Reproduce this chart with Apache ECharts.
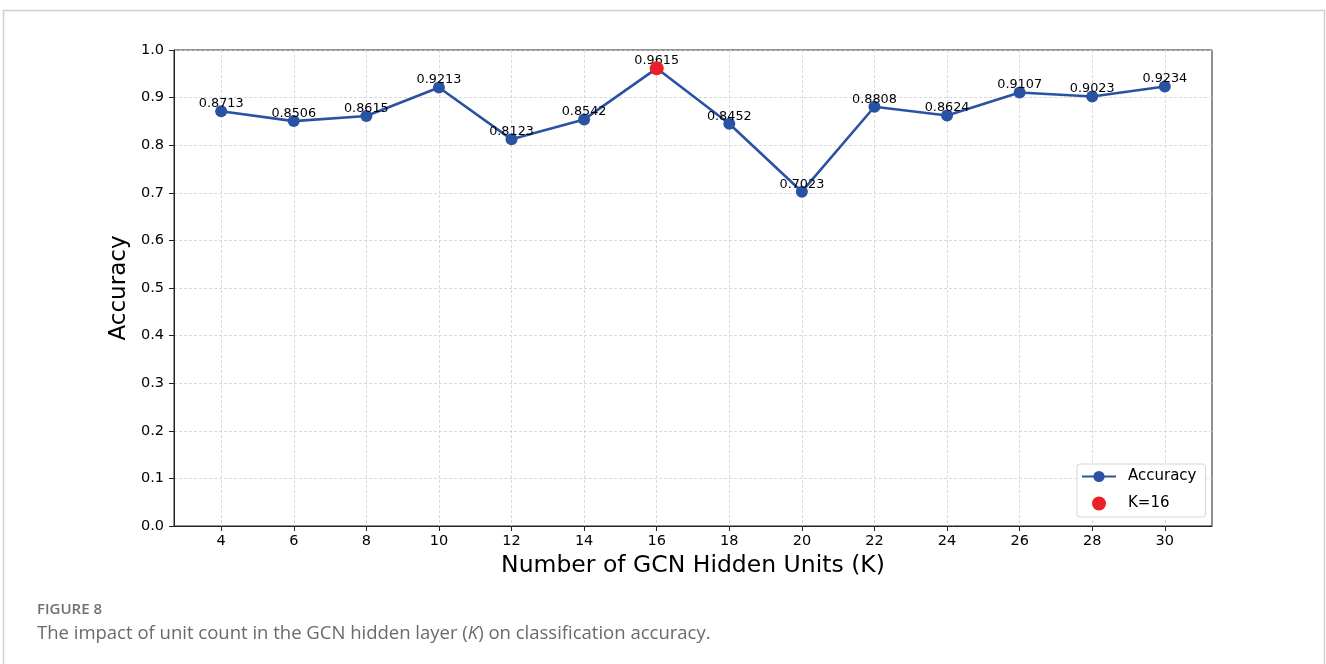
<!DOCTYPE html>
<html>
<head>
<meta charset="utf-8">
<script src="https://cdn.jsdelivr.net/npm/echarts@6/dist/echarts.min.js"></script>
<style>
  html, body { margin: 0; padding: 0; background: #fff; }
  #chart { width: 1326px; height: 664px; }
</style>
</head>
<body>
<div id="chart"></div>
<script>
// Hidden-unit counts K and the classification accuracy reached at each
const hiddenUnits = [4, 6, 8, 10, 12, 14, 16, 18, 20, 22, 24, 26, 28, 30];
const accuracy = [0.8713, 0.8506, 0.8615, 0.9213, 0.8123, 0.8542, 0.9615,
                  0.8452, 0.7023, 0.8808, 0.8624, 0.9107, 0.9023, 0.9234];
const bestK = 16;

const lineData = hiddenUnits.map((k, i) => [k, accuracy[i]]);
const bestData = [[bestK, accuracy[hiddenUnits.indexOf(bestK)]]];

const FONT = 'DejaVu Sans';
const BLUE = '#2a52a3';
const RED = '#ea1f28';

const chart = echarts.init(document.getElementById('chart'), null, { renderer: 'canvas' });

chart.setOption({
  animation: false,
  backgroundColor: '#fff',
  grid: {
    left: 174, right: 114, top: 50, bottom: 138,
    show: true, borderColor: '#222', borderWidth: 1, backgroundColor: 'transparent'
  },
  xAxis: {
    type: 'value',
    min: 2.7, max: 31.3,
    name: 'Number of GCN Hidden Units (K)',
    nameLocation: 'middle',
    nameGap: 28,
    nameTextStyle: { fontFamily: FONT, fontSize: 23.5, color: '#000' },
    axisLine: { show: true, onZero: false, lineStyle: { color: '#222', width: 1 } },
    axisTick: { show: true, length: 5, inside: false, customValues: hiddenUnits,
                lineStyle: { color: '#222' } },
    axisLabel: { customValues: hiddenUnits, margin: 8, fontFamily: FONT, fontSize: 14.5, color: '#000' },
    splitLine: { show: true, lineStyle: { color: '#cfcfcf', type: [3, 2], width: 0.8 } }
  },
  yAxis: {
    type: 'value',
    min: 0, max: 1, interval: 0.1,
    name: 'Accuracy',
    nameLocation: 'middle',
    nameGap: 41,
    nameTextStyle: { fontFamily: FONT, fontSize: 23, color: '#000' },
    axisLine: { show: true, lineStyle: { color: '#222', width: 1 } },
    axisTick: { show: true, length: 5, lineStyle: { color: '#222' } },
    axisLabel: { margin: 10, fontFamily: FONT, fontSize: 14.5, color: '#000',
                 formatter: v => v.toFixed(1) },
    splitLine: { show: true, lineStyle: { color: '#cfcfcf', type: [3, 2], width: 0.8 } }
  },
  legend: {
    orient: 'vertical',
    left: 1077, top: 464,
    padding: [5, 9, 6, 4],
    itemWidth: 34, itemHeight: 14, itemGap: 12,
    borderColor: '#d6d6d6', borderWidth: 1, borderRadius: 3,
    backgroundColor: '#fff',
    textStyle: { fontFamily: FONT, fontSize: 15, color: '#000', padding: [0, 0, 0, 7] },
    data: [
      { name: 'Accuracy' },
      { name: 'K=16', icon: 'circle', itemStyle: { color: RED, opacity: 1 } }
    ]
  },
  series: [
    {
      name: 'Accuracy',
      type: 'line',
      data: lineData,
      symbol: 'circle',
      symbolSize: 12,
      itemStyle: { color: BLUE },
      lineStyle: { color: BLUE, width: 2.6 },
      label: {
        show: true, position: 'top', distance: -5,
        fontFamily: FONT, fontSize: 12.8, color: '#000',
        formatter: p => p.value[1].toFixed(4)
      },
      z: 2
    },
    {
      name: 'K=16',
      type: 'scatter',
      data: bestData,
      symbol: 'circle',
      symbolSize: 14,
      itemStyle: { color: RED, opacity: 1 },
      z: 3
    }
  ],
  graphic: [
    {
      type: 'rect', z: -10, silent: true,
      shape: { x: 3.5, y: 10.5, width: 1321, height: 700 },
      style: { fill: 'none', stroke: '#cfcfcf', lineWidth: 1.5 }
    },
    {
      type: 'text', left: 37, top: 602,
      style: { text: 'FIGURE 8', fontFamily: 'Open Sans', fontSize: 15, fontWeight: 600, fill: '#707070' }
    },
    {
      type: 'text', left: 37, top: 624,
      style: {
        text: '{n|The impact of unit count in the GCN hidden layer (}{i|K}{n|) on classification accuracy.}',
        rich: {
          n: { fontFamily: 'Open Sans', fontSize: 18.5, fill: '#6a6a6a' },
          i: { fontFamily: 'Open Sans', fontSize: 18.5, fontStyle: 'italic', fill: '#6a6a6a' }
        }
      }
    }
  ]
});
</script>
</body>
</html>
